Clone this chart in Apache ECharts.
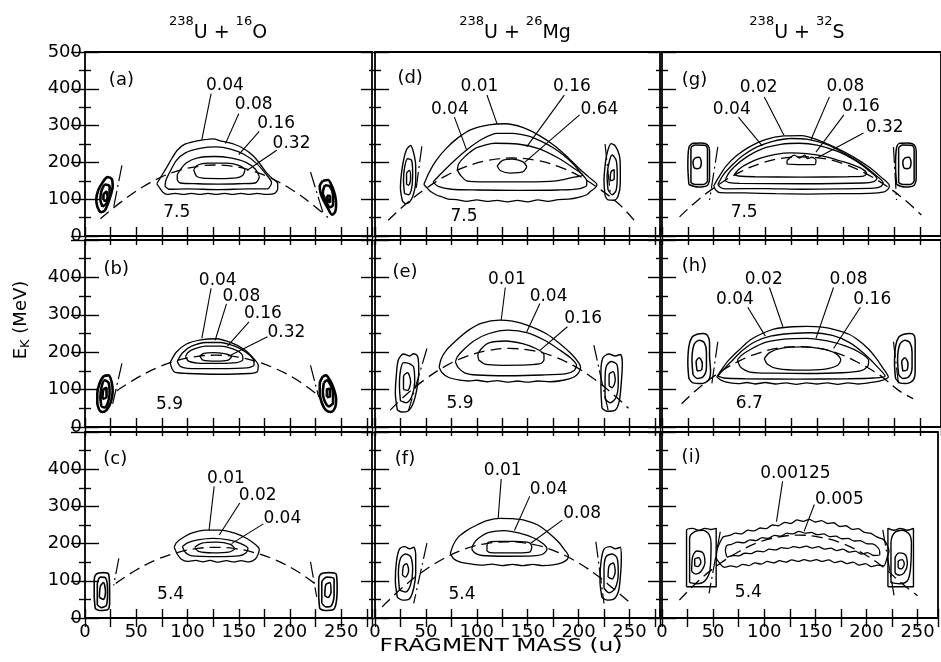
<!DOCTYPE html>
<html>
<head>
<meta charset="utf-8">
<script src="https://cdn.jsdelivr.net/npm/echarts@6/dist/echarts.min.js"></script>
<style>
html,body{margin:0;padding:0;background:#fff}
#chart{width:941px;height:662px}
</style>
</head>
<body>
<div id="chart"></div>
<script>
// Fragment kinetic energy vs fragment mass, contour maps for three reactions
const FONT = 'DejaVu Sans';
const INK = '#000';

const xLabelValues = [0, 50, 100, 150, 200, 250];
const yLabelValues = [0, 100, 200, 300, 400, 500];
const panelLetters = ['(a)', '(b)', '(c)', '(d)', '(e)', '(f)', '(g)', '(h)', '(i)'];
const energyTexts = ['7.5', '5.9', '5.4', '7.5', '5.9', '5.4', '7.5', '6.7', '5.4'];
const letterAt = [[36,423],[31,420],[30,424],[35,428],[30,411],[30,426],[32,423],[32,429],[29,431]];
const energyAt = [[90,61],[83,58],[84,61],[88,52],[84,62],[86,61],[80,62],[85,62],[85,66]];

// ---- (a) 238U + 16O, 7.5 MeV/u ----
const contA1 = [[70,142],[73,130],[76,119],[80,113],[88,116],[96,113],[104,116],[112,113],[120,116],[128,113],[136,116],[144,113],[152,116],[160,113],[168,116],[176,113],[185,116],[188,128],[188,142],[182,158],[177,172],[171,195],[164,218],[155,237],[145,250],[133,258],[125,264],[115,261],[105,256],[97,249],[90,233],[85,212],[80,188],[75,165]];
const contA2 = [[78,135],[82,127],[100,128],[130,126],[160,128],[178,128],[182,145],[176,170],[167,198],[155,222],[142,236],[128,242],[112,238],[98,226],[89,205],[83,175],[79,152]];
const contA3 = [[90,152],[93,144],[110,142],[130,141],[150,142],[166,144],[170,160],[166,182],[157,200],[142,212],[126,216],[110,212],[99,199],[93,180],[90,165]];
const contA4 = [[106,180],[109,162],[115,157],[130,156],[148,158],[154,165],[156,180],[150,192],[138,198],[120,198],[110,193]];
const blobA = [
  [[15,64],[12,80],[11,100],[13,125],[17,145],[22,160],[26,155],[27,135],[25,110],[22,85],[19,68]],
  [[17,80],[15,100],[16,122],[20,140],[24,135],[24,110],[21,88]],
  [[18,98],[18,112],[21,120],[22,105],[20,95]],
  [[232,150],[229,135],[230,115],[233,95],[237,75],[241,58],[244,65],[245,85],[244,110],[241,135],[237,152]],
  [[234,138],[232,118],[235,95],[239,78],[242,85],[242,110],[239,135]],
  [[236,110],[237,95],[239,92],[239,108]]
];
const arcA = [[15,47],[35,92],[55,131],[75,161],[95,181],[115,191],[127,193],[140,191],[160,180],[180,159],[200,129],[220,90],[237,50]];
const steepA = [[[36,192],[28,79]], [[220,174],[233,56]]];
const labA = [['0.04',137,407],['0.08',165,355],['0.16',187,305],['0.32',202,249]];
const leadA = [[[123,387],[114,262]], [[150,332],[137,251]], [[170,284],[150,221]], [[187,233],[158,178]]];

// ---- (b) 238U + 16O, 5.9 MeV/u ----
const contB1 = [[83,172],[85,155],[88,146],[100,143],[130,141],[160,143],[168,148],[169,165],[164,185],[155,208],[142,226],[128,236],[113,233],[99,222],[89,200]];
const contB2 = [[90,175],[93,162],[100,157],[130,156],[158,158],[165,166],[164,182],[157,200],[146,216],[132,226],[118,226],[104,216],[95,198]];
const contB3 = [[98,188],[101,176],[110,171],[130,170],[148,172],[154,180],[153,195],[145,208],[132,216],[118,216],[106,208],[100,198]];
const contB4 = [[112,190],[115,179],[128,176],[139,178],[143,188],[136,196],[125,199],[116,197]];
const blobB = [
  [[14,45],[12,65],[12,90],[14,115],[18,135],[23,138],[26,120],[27,95],[25,65],[21,45],[17,40]],
  [[16,55],[15,80],[16,105],[19,125],[23,118],[24,90],[22,62],[19,52]],
  [[17,75],[18,100],[21,105],[21,80]],
  [[232,135],[229,115],[229,90],[231,65],[235,45],[240,40],[244,52],[245,75],[243,100],[239,125],[235,138]],
  [[233,118],[232,92],[234,68],[238,55],[242,65],[242,92],[239,115],[236,125]],
  [[236,80],[236,100],[239,102],[239,82]]
];
const arcB = [[31,97],[50,130],[70,158],[90,178],[110,189],[127,192],[145,189],[165,177],[185,157],[205,129],[228,84]];
const steepB = [[[36,170],[27,62]], [[220,165],[228,80]]];
const labB = [['0.04',130,391],['0.08',153,348],['0.16',174,301],['0.32',197,252]];
const leadB = [[[123,371],[114,237]], [[138,329],[127,232]], [[160,281],[139,216]], [[178,241],[142,192]]];

// ---- (c) 238U + 16O, 5.4 MeV/u ----
const contC1 = [[87,190],[90,172],[94,158],[100,152],[108,155],[115,151],[122,155],[130,150],[138,154],[145,151],[152,154],[160,151],[166,158],[169,172],[170,185],[165,200],[157,215],[146,228],[132,236],[118,236],[104,228],[95,215],[89,202]];
const contC2 = [[95,192],[98,176],[104,167],[130,165],[150,167],[157,175],[159,187],[152,200],[140,210],[125,214],[110,210],[100,202]];
const contC3 = [[107,190],[111,179],[125,175],[140,177],[146,186],[142,198],[128,204],[114,201]];
const blobC = [
  [[10,25],[9,60],[9,100],[11,118],[18,122],[23,118],[24,80],[24,40],[22,22],[14,20]],
  [[12,35],[12,90],[15,110],[20,108],[22,70],[21,35],[16,28]],
  [[14,55],[15,85],[18,95],[20,70],[18,50]],
  [[229,25],[228,60],[228,100],[230,118],[238,122],[245,118],[246,80],[245,40],[242,22],[234,20]],
  [[231,40],[231,95],[236,110],[243,105],[243,60],[240,32],[235,30]],
  [[234,60],[235,90],[239,95],[240,70],[237,55]]
];
const arcC = [[30,93],[50,129],[70,157],[90,176],[110,187],[127,190],[145,187],[165,176],[185,157],[205,129],[224,93]];
const steepC = [[[33,160],[28,88]], [[220,151],[226,57]]];
const labC = [['0.01',138,374],['0.02',169,327],['0.04',193,267]];
const leadC = [[[126,354],[121,236]], [[151,309],[131,223]], [[174,253],[143,200]]];

// ---- (d) 238U + 26Mg, 7.5 MeV/u ----
const contD1 = [[48,140],[52,128],[55,120],[60,112],[66,106],[72,100],[80,99],[90,94],[100,98],[110,94],[120,97],[130,93],[140,97],[150,93],[160,98],[170,94],[180,99],[190,100],[200,105],[208,112],[212,122],[216,130],[218,140],[210,160],[200,185],[190,212],[178,242],[162,272],[145,295],[128,305],[112,302],[95,290],[82,268],[70,238],[60,205],[53,172]];
const contD2 = [[57,147],[62,135],[75,127],[100,125],[140,124],[180,125],[200,128],[208,138],[208,150],[202,172],[195,195],[185,220],[175,240],[163,258],[150,272],[135,279],[120,279],[105,263],[90,234],[76,200],[65,170]];
const contD3 = [[81,179],[84,165],[90,150],[110,147],[150,147],[178,150],[192,158],[204,166],[195,185],[180,212],[160,238],[140,250],[118,252],[100,240],[88,215],[82,195]];
const contD4 = [[120,190],[123,178],[133,171],[145,174],[149,188],[145,202],[135,209],[125,205]];
const blobD = [
  [[27,95],[25,130],[26,170],[28,205],[31,235],[35,246],[38,225],[40,190],[40,150],[38,115],[34,92],[30,88]],
  [[29,115],[28,150],[29,185],[32,210],[36,205],[37,170],[36,130],[33,112]],
  [[31,140],[31,170],[34,178],[35,155],[33,138]],
  [[226,110],[225,150],[226,190],[228,225],[232,251],[236,245],[240,220],[241,185],[241,145],[239,110],[235,97],[229,98]],
  [[229,125],[228,160],[230,200],[233,220],[237,205],[238,165],[237,125],[233,112]],
  [[231,150],[232,175],[235,180],[235,155]]
];
const arcD = [[13,43],[30,86],[50,129],[70,164],[90,189],[110,205],[135,212],[160,205],[180,189],[200,164],[220,129],[240,86],[257,35]];
const steepD = [[[46,244],[40,120]], [[226,250],[231,120]]];
const labD = [['0.01',103,405],['0.04',74,342],['0.16',194,405],['0.64',221,342]];
const leadD = [[[110,383],[120,304]], [[78,323],[90,234]], [[186,383],[149,242]], [[201,329],[147,200]]];

// ---- (e) 238U + 26Mg, 5.9 MeV/u ----
const contE1 = [[63,160],[66,145],[72,133],[82,126],[92,123],[100,125],[110,121],[120,124],[130,120],[140,123],[150,120],[160,123],[172,121],[185,125],[195,133],[200,145],[202,160],[200,172],[193,195],[182,222],[168,250],[150,272],[135,283],[122,286],[105,278],[92,259],[80,232],[70,205],[65,182]];
const contE2 = [[79,174],[82,158],[88,145],[100,139],[130,137],[165,139],[188,143],[196,152],[198,165],[192,185],[182,205],[168,230],[150,252],[131,259],[112,250],[97,230],[86,204],[81,188]];
const contE3 = [[102,179],[108,168],[125,165],[150,166],[163,170],[166,180],[166,194],[158,210],[145,223],[128,230],[112,225],[104,208],[101,192]];
const blobE = [
  [[22,45],[20,90],[21,140],[23,180],[28,195],[34,190],[38,196],[42,188],[43,150],[41,100],[37,60],[32,42],[26,40]],
  [[25,70],[24,110],[25,150],[28,172],[33,170],[38,160],[39,120],[36,80],[31,65]],
  [[28,100],[28,135],[32,145],[35,120],[32,98]],
  [[223,50],[222,100],[222,150],[224,185],[230,195],[236,190],[241,194],[243,170],[242,120],[240,70],[236,45],[228,42]],
  [[226,75],[226,120],[227,160],[232,175],[238,165],[239,120],[237,80],[231,65]],
  [[230,110],[230,140],[234,148],[236,125],[233,105]]
];
const arcE = [[15,45],[30,85],[50,129],[70,164],[90,189],[110,204],[132,210],[155,204],[175,189],[195,164],[215,129],[235,85],[249,50]];
const steepE = [[[51,210],[33,45]], [[215,219],[229,45]]];
const labE = [['0.01',130,393],['0.04',171,348],['0.16',205,288]];
const leadE = [[[128,373],[124,286]], [[162,330],[149,254]], [[189,268],[162,205]]];

// ---- (f) 238U + 26Mg, 5.4 MeV/u ----
const contF1 = [[74,174],[77,160],[83,151],[95,145],[105,142],[115,145],[125,141],[135,144],[145,141],[155,144],[165,141],[175,143],[184,149],[189,158],[190,167],[186,184],[180,205],[171,228],[160,250],[148,262],[135,267],[123,268],[110,262],[100,250],[90,235],[82,218],[77,197]];
const contF2 = [[95,186],[98,175],[105,168],[130,166],[155,167],[165,172],[169,185],[165,200],[156,215],[142,228],[127,235],[112,230],[102,215],[97,200]];
const contF3 = [[110,180],[113,176],[140,175],[152,177],[154,190],[152,202],[138,206],[120,206],[111,203],[110,190]];
const blobF = [
  [[22,55],[20,100],[21,150],[24,185],[29,192],[34,186],[38,190],[40,170],[40,120],[38,80],[34,52],[27,48]],
  [[24,75],[23,120],[25,160],[30,172],[35,165],[37,130],[35,90],[30,70]],
  [[27,115],[28,140],[31,146],[33,128],[30,110]],
  [[223,55],[221,100],[222,150],[225,185],[231,192],[236,186],[241,190],[242,160],[241,110],[239,70],[234,50],[228,48]],
  [[225,80],[225,130],[227,165],[233,172],[238,160],[239,120],[236,80],[230,68]],
  [[229,110],[230,140],[234,148],[236,125],[233,105]]
];
const arcF = [[7,30],[25,77],[45,121],[65,156],[85,182],[105,198],[130,205],[155,198],[175,182],[195,156],[215,121],[235,77],[249,45]];
const steepF = [[[51,201],[38,39]], [[217,205],[225,39]]];
const labF = [['0.01',126,395],['0.04',171,345],['0.08',204,280]];
const leadF = [[[124,374],[121,268]], [[152,327],[137,235]], [[184,263],[153,201]]];

// ---- (g) 238U + 32S, 7.5 MeV/u ----
const contG1 = [[50,136],[52,125],[56,118],[80,117],[110,115],[140,114],[170,115],[200,116],[214,119],[219,128],[220,138],[212,160],[200,188],[185,215],[168,240],[150,262],[135,273],[118,272],[100,262],[85,243],[72,218],[62,190],[55,160]];
const contG2 = [[54,140],[57,131],[62,128],[100,129],[135,127],[170,128],[205,130],[212,135],[214,145],[206,167],[193,196],[178,222],[160,248],[140,263],[125,265],[108,258],[92,242],[78,218],[67,190],[59,165]];
const contG3 = [[61,150],[65,145],[75,143],[135,142],[195,144],[205,148],[208,156],[200,178],[187,205],[170,230],[150,247],[133,252],[115,249],[97,237],[82,215],[70,188],[64,168]];
const contG4 = [[70,167],[74,163],[90,161],[135,160],[180,161],[195,163],[198,170],[192,185],[180,198],[168,208],[155,218],[140,224],[125,226],[110,222],[96,212],[84,198],[75,183]];
const contG5 = [[121,205],[121,195],[148,194],[149,207],[145,214],[141,210],[138,220],[133,212],[128,220],[124,213]];
const blobG = [
  [[26,140],[25,190],[26,240],[30,252],[38,253],[44,248],[46,230],[46,160],[44,138],[35,133]],
  [[28,145],[28,238],[32,247],[42,246],[44,235],[44,150],[40,140],[32,140]],
  [[31,185],[30,200],[32,212],[36,214],[38,200],[37,186],[34,183]],
  [[227,140],[226,190],[227,240],[230,252],[238,253],[244,248],[246,230],[246,160],[244,138],[235,133]],
  [[229,145],[229,238],[233,247],[242,246],[244,235],[244,150],[240,140],[233,140]],
  [[234,185],[233,200],[235,212],[239,214],[241,200],[240,186],[237,183]]
];
const arcG = [[17,52],[35,98],[55,140],[75,173],[95,197],[115,211],[134,215],[155,211],[175,197],[195,173],[215,140],[235,98],[251,57]];
const steepG = [[[54,242],[46,98]], [[224,242],[227,98]]];
const labG = [['0.02',94,402],['0.04',68,342],['0.08',178,405],['0.16',193,350],['0.32',216,293]];
const leadG = [[[99,378],[118,274]], [[74,323],[97,245]], [[162,378],[144,261]], [[176,329],[149,228]], [[195,280],[150,212]]];

// ---- (h) 238U + 32S, 6.7 MeV/u ----
const contH1 = [[53,134],[58,124],[66,118],[74,116],[82,119],[90,115],[100,119],[110,115],[120,118],[130,114],[140,118],[150,115],[160,118],[170,114],[180,118],[190,115],[200,118],[212,124],[219,134],[213,161],[207,185],[200,208],[191,230],[181,248],[168,260],[155,267],[140,269],[126,268],[112,264],[104,258],[94,246],[85,232],[75,207],[65,180],[58,155]];
const contH2 = [[54,136],[60,131],[80,129],[130,128],[180,129],[205,131],[216,136],[208,162],[196,195],[182,225],[165,245],[145,252],[125,250],[105,243],[90,228],[78,205],[67,175],[59,152]];
const contH3 = [[73,180],[76,160],[85,147],[110,144],[140,143],[175,145],[192,150],[199,162],[200,178],[192,198],[178,216],[160,230],[140,237],[118,235],[100,226],[86,208],[77,192]];
const contH4 = [[99,183],[102,168],[112,156],[135,152],[158,155],[170,165],[173,180],[168,197],[155,209],[135,214],[115,210],[104,199]];
const blobH = [
  [[26,130],[25,170],[26,215],[29,240],[34,248],[40,250],[44,245],[46,225],[46,190],[47,150],[45,125],[38,116],[30,118]],
  [[30,140],[29,180],[31,220],[36,232],[41,225],[43,200],[43,160],[40,135],[34,130]],
  [[34,150],[33,175],[36,185],[39,170],[38,152]],
  [[226,130],[225,170],[226,215],[229,240],[234,248],[240,250],[244,245],[245,225],[245,190],[245,150],[243,125],[236,116],[230,118]],
  [[229,140],[228,180],[230,220],[235,232],[240,225],[242,200],[242,160],[239,135],[233,130]],
  [[233,150],[232,175],[235,185],[238,170],[237,152]]
];
const arcH = [[19,62],[35,103],[55,145],[75,177],[95,199],[115,212],[131,215],[150,211],[170,197],[190,172],[210,140],[230,96],[243,76]];
const steepH = [[[54,228],[48,112]], [[224,228],[229,112]]];
const labH = [['0.02',99,393],['0.04',71,339],['0.08',181,393],['0.16',204,339]];
const leadH = [[[104,373],[117,268]], [[83,320],[100,243]], [[166,373],[149,237]], [[192,320],[166,210]]];

// ---- (i) 238U + 32S, 5.4 MeV/u ----
const contI1 = [[53,160],[54,185],[57,205],[60,218],[66,222],[72,228],[78,226],[84,236],[90,234],[96,242],[102,240],[108,250],[114,248],[120,257],[126,254],[132,264],[138,260],[144,265],[150,258],[156,262],[162,254],[168,256],[174,246],[180,248],[186,238],[192,240],[198,230],[204,228],[210,218],[216,212],[220,198],[222,180],[220,160],[217,140],[211,142],[205,138],[199,146],[193,142],[187,150],[181,146],[175,153],[169,149],[163,156],[157,152],[151,157],[145,153],[139,157],[133,152],[127,156],[121,150],[115,154],[109,148],[103,152],[97,145],[91,148],[85,141],[79,144],[73,137],[67,140],[61,136],[57,145]];
const contI2 = [[62,180],[63,194],[68,198],[74,204],[80,202],[86,210],[92,208],[98,216],[104,214],[110,222],[116,220],[122,228],[128,226],[134,233],[140,228],[146,230],[152,224],[158,226],[164,219],[170,220],[176,213],[182,214],[188,207],[194,208],[200,200],[206,199],[211,190],[213,178],[213,170],[207,168],[201,176],[195,172],[189,180],[183,177],[177,185],[171,181],[165,188],[159,185],[153,192],[147,188],[141,193],[135,189],[129,192],[123,187],[117,189],[111,183],[105,185],[99,178],[93,180],[87,173],[81,174],[75,167],[69,168],[64,164]];
const blobI = [
  [[24,84],[24,236],[30,241],[36,236],[42,241],[48,238],[53,241],[53,84]],
  [[27,95],[27,215],[32,232],[40,236],[46,225],[48,200],[47,130],[42,100],[34,92]],
  [[29,125],[30,165],[34,180],[40,175],[42,150],[38,125],[33,118]],
  [[32,140],[32,158],[36,162],[38,150],[35,138]],
  [[221,84],[221,241],[227,236],[233,241],[240,236],[246,241],[246,84]],
  [[224,95],[224,200],[227,228],[235,236],[242,225],[244,200],[243,130],[240,100],[232,92]],
  [[228,120],[228,160],[232,175],[238,170],[240,145],[237,122],[232,115]],
  [[231,135],[231,152],[235,157],[237,145],[234,132]]
];
const arcI = [[17,48],[35,98],[55,143],[75,178],[95,204],[115,218],[134,223],[155,217],[175,202],[195,176],[215,140],[235,92],[250,60]];
const steepI = [[[57,232],[46,66]], [[216,237],[227,61]]];
const labI = [['0.00125',131,386],['0.005',174,318]];
const leadI = [[[118,368],[112,259]], [[149,305],[139,233]]];

// ---- panel table (column = reaction, row = bombarding energy) ----
const panels = [
  {col:0,row:0, contours:[contA1,contA2,contA3,contA4], blobs:blobA, blobWidth:2.6, arc:arcA, steep:steepA, labels:labA, leaders:leadA},
  {col:0,row:1, contours:[contB1,contB2,contB3,contB4], blobs:blobB, blobWidth:2.6, arc:arcB, steep:steepB, labels:labB, leaders:leadB},
  {col:0,row:2, contours:[contC1,contC2,contC3], blobs:blobC, blobWidth:1.6, arc:arcC, steep:steepC, labels:labC, leaders:leadC},
  {col:1,row:0, contours:[contD1,contD2,contD3,contD4], blobs:blobD, blobWidth:1.4, arc:arcD, steep:steepD, labels:labD, leaders:leadD},
  {col:1,row:1, contours:[contE1,contE2,contE3], blobs:blobE, blobWidth:1.4, arc:arcE, steep:steepE, labels:labE, leaders:leadE},
  {col:1,row:2, contours:[contF1,contF2,contF3], blobs:blobF, blobWidth:1.4, arc:arcF, steep:steepF, labels:labF, leaders:leadF},
  {col:2,row:0, contours:[contG1,contG2,contG3,contG4,contG5], blobs:blobG, blobWidth:1.5, arc:arcG, steep:steepG, labels:labG, leaders:leadG},
  {col:2,row:1, contours:[contH1,contH2,contH3,contH4], blobs:blobH, blobWidth:1.5, arc:arcH, steep:steepH, labels:labH, leaders:leadH},
  {col:2,row:2, contours:[contI1,contI2], blobs:blobI, blobWidth:1.4, arc:arcI, steep:steepI, labels:labI, leaders:leadI}
];

// ---- layout ----
const colLeft = [85, 375, 662];
const colWidth = [287, 285, 282];
const colMax = [280, 280, 270];
const rowTop = [52, 240, 432];
const rowHeight = [184, 187, 186];

const closeLoop = pts => pts.concat([pts[0]]);

const grids = [], xAxes = [], yAxes = [], series = [];

panels.forEach((p, i) => {
  grids.push({
    left: colLeft[p.col], top: rowTop[p.row], width: colWidth[p.col], height: rowHeight[p.row],
    show: true, borderColor: INK, borderWidth: 1.8, backgroundColor: 'transparent', containLabel: false
  });
  const xCommon = {
    gridIndex: i, type: 'value', min: 0, max: colMax[p.col], interval: 25,
    axisLine: {show: false}, splitLine: {show: false},
    axisTick: {show: true, inside: true, length: 9, lineStyle: {color: INK, width: 1.4}}
  };
  xAxes.push(Object.assign({}, xCommon, {
    position: 'bottom',
    axisLabel: {
      show: p.row === 2, fontSize: 18, fontFamily: FONT, color: INK, margin: 5,
      formatter: v => xLabelValues.includes(v) ? String(v) : ''
    }
  }));
  xAxes.push(Object.assign({}, xCommon, {position: 'top', axisLabel: {show: false}}));
  const yCommon = {
    gridIndex: i, type: 'value', min: 0, max: 500, interval: 100,
    axisLine: {show: false}, splitLine: {show: false},
    axisTick: {show: true, inside: true, length: 14, lineStyle: {color: INK, width: 1.4}},
    minorTick: {show: true, splitNumber: 2, length: 6, lineStyle: {color: INK, width: 1.4}}
  };
  yAxes.push(Object.assign({}, yCommon, {
    position: 'left',
    axisLabel: {
      show: p.col === 0, fontSize: 18, fontFamily: FONT, color: INK, margin: 3,
      formatter: v => (p.row > 0 && v === 500) ? '' : (yLabelValues.includes(v) ? String(v) : '')
    }
  }));
  yAxes.push(Object.assign({}, yCommon, {position: 'right', axisLabel: {show: false}}));

  const ax = {xAxisIndex: 2 * i, yAxisIndex: 2 * i};
  const lineBase = Object.assign({type: 'line', symbol: 'none', silent: true, animation: false, z: 3}, ax);

  p.contours.forEach(c => series.push(Object.assign({}, lineBase, {
    data: closeLoop(c), smooth: 0.25, lineStyle: {color: INK, width: 1.3}
  })));
  p.blobs.forEach(c => series.push(Object.assign({}, lineBase, {
    data: closeLoop(c), smooth: 0.3, lineStyle: {color: INK, width: p.blobWidth}
  })));
  series.push(Object.assign({}, lineBase, {
    data: p.arc, smooth: 0.4, lineStyle: {color: INK, width: 1.3, type: [11, 6]}
  }));
  p.steep.forEach(s => series.push(Object.assign({}, lineBase, {
    data: s, lineStyle: {color: INK, width: 1.2, type: [16, 4, 2, 4]}
  })));
  p.leaders.forEach(s => series.push(Object.assign({}, lineBase, {
    data: s, lineStyle: {color: INK, width: 1.1}
  })));

  const textItems = p.labels.map(l => ({name: l[0], value: [l[1], l[2]], fs: 17}));
  textItems.push({name: panelLetters[i], value: letterAt[i], fs: 18});
  textItems.push({name: energyTexts[i], value: energyAt[i], fs: 17});
  series.push(Object.assign({type: 'scatter', silent: true, animation: false, z: 5}, ax, {
    symbol: 'circle', symbolSize: 1, itemStyle: {color: INK, opacity: 0},
    data: textItems.map(t => ({
      name: t.name, value: t.value,
      label: {
        show: true, position: [0, 0], align: 'center', verticalAlign: 'middle',
        formatter: '{b}', fontSize: t.fs, fontFamily: FONT, color: INK, opacity: 1,
        textBorderWidth: 0
      }
    }))
  }));
});

// ---- headers and axis names ----
const reactionTitles = [['238', 'U + ', '16', 'O'], ['238', 'U + ', '26', 'Mg'], ['238', 'U + ', '32', 'S']];
const titleCenters = [218, 515, 797];
const richHead = {
  s: {fontSize: 13, fontFamily: FONT, fill: INK, color: INK, verticalAlign: 'top', lineHeight: 14},
  b: {fontSize: 19, fontFamily: FONT, fill: INK, color: INK, verticalAlign: 'bottom', lineHeight: 27}
};
const graphics = reactionTitles.map((t, k) => ({
  type: 'text', x: titleCenters[k], y: 29, silent: true,
  style: {
    text: '{s|' + t[0] + '}{b|' + t[1] + '}{s|' + t[2] + '}{b|' + t[3] + '}',
    rich: richHead, align: 'center', verticalAlign: 'middle', textAlign: 'center', textVerticalAlign: 'middle'
  }
}));
graphics.push({
  type: 'text', x: 22, y: 320, rotation: Math.PI / 2, silent: true,
  style: {
    text: '{b|E}{k|K}{b| (MeV)}',
    rich: {
      b: {fontSize: 18, fontFamily: FONT, fill: INK, color: INK, verticalAlign: 'top', lineHeight: 20},
      k: {fontSize: 13, fontFamily: FONT, fill: INK, color: INK, verticalAlign: 'bottom', lineHeight: 13}
    },
    align: 'center', verticalAlign: 'middle', textAlign: 'center', textVerticalAlign: 'middle'
  }
});
graphics.push({
  type: 'text', x: 501, y: 646, scaleX: 1.3, silent: true,
  style: {
    text: 'FRAGMENT MASS (u)', font: '18px "DejaVu Sans"', fill: INK,
    align: 'center', verticalAlign: 'middle', textAlign: 'center', textVerticalAlign: 'middle'
  }
});

const chart = echarts.init(document.getElementById('chart'), null, {renderer: 'canvas'});
chart.setOption({
  animation: false,
  backgroundColor: '#fff',
  grid: grids,
  xAxis: xAxes,
  yAxis: yAxes,
  series: series,
  graphic: graphics
});
</script>
</body>
</html>
